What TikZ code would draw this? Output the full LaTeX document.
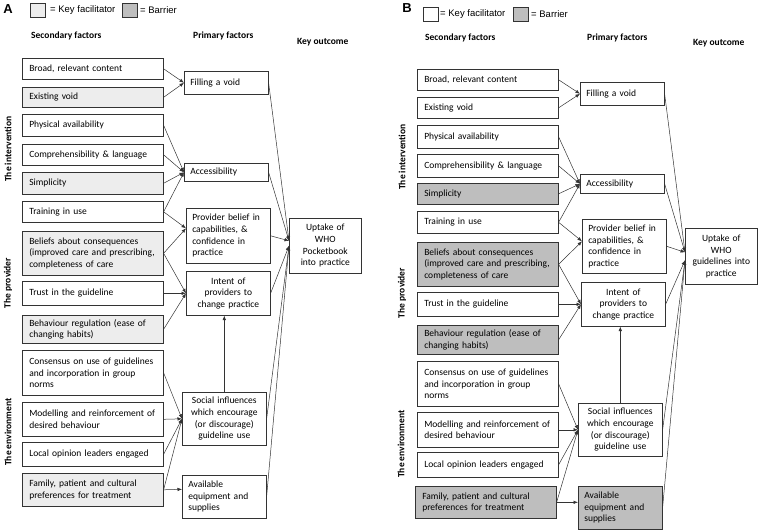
\documentclass[tikz,border=0pt]{standalone}
\usepackage{fontspec}
\setmainfont{Carlito}
\newfontfamily\legendfont{Liberation Sans}
\usetikzlibrary{arrows.meta,positioning,calc}
\definecolor{facil}{HTML}{EDEDED}
\definecolor{barrier}{HTML}{BEBEBE}
\definecolor{edge}{HTML}{333333}
\newcommand\factfont{\fontsize{9.5}{11.6}\selectfont}
\tikzset{
  fact/.style={draw=edge, line width=0.6pt, anchor=north west, inner xsep=7pt, inner ysep=2pt,
    text width=127pt, align=left, font=\factfont},
  prim/.style={fact, inner xsep=6pt, text width=72pt},
  outc/.style={fact, inner xsep=4pt, text width=64pt, align=center},
  keyfac/.style={fill=facil},
  barr/.style={fill=barrier},
  link/.style={draw=edge, line width=0.5pt, -{Latex[length=4.5pt,width=3.5pt]}},
  head/.style={anchor=west, inner sep=0pt, font=\fontsize{9.5}{11}\selectfont\bfseries},
  side/.style={rotate=90, inner sep=0pt, font=\fontsize{9.5}{11}\selectfont\bfseries},
  legbox/.style={draw=edge, line width=0.5pt, anchor=north west, inner sep=0pt, minimum width=15pt, minimum height=14pt},
  legtext/.style={anchor=west, inner sep=0pt, font=\legendfont\fontsize{9.5}{11}\selectfont},
  panel/.style={inner sep=0pt, font=\legendfont\fontsize{13}{15}\selectfont\bfseries}
}

\begin{document}
\begin{tikzpicture}[x=1pt,y=-1pt]
    \useasboundingbox (0,0) rectangle (758,530);

    % ---------- panel A ----------
    \node[panel] (labA) at (8,9) {A};
    \node[legbox, keyfac] (lkA) at (30,3) {};
    \node[legtext] (ltkA) at (50,10) {= Key facilitator};
    \node[legbox, barr] (lbA) at (122,3) {};
    \node[legtext] (ltbA) at (140,10) {= Barrier};

    \node[head] (hsA) at (31,36) {Secondary factors};
    \node[head] (hpA) at (193,36) {Primary factors};
    \node[head] (hoA) at (297,42) {Key outcome};

    \node[side] (s1A) at (8,149) {The intervention};
    \node[side] (s2A) at (8,283) {The provider};
    \node[side] (s3A) at (8,432) {The environment};

    % secondary factors
    \node[fact, minimum height=21pt] (broA) at (22,58) {Broad, relevant content};
    \node[fact, keyfac, minimum height=20pt] (exiA) at (22,87) {Existing void};
    \node[fact, minimum height=22pt] (phyA) at (22,114) {Physical availability};
    \node[fact, minimum height=21pt] (comA) at (22,144) {Comprehensibility \& language};
    \node[fact, keyfac, minimum height=22pt] (simA) at (22,172) {Simplicity};
    \node[fact, minimum height=21pt] (traA) at (22,201) {Training in use};
    \node[fact, keyfac, minimum height=44pt] (belA) at (22,231) {Beliefs about consequences\\(improved care and prescribing,\\completeness of care};
    \node[fact, minimum height=24pt] (truA) at (22,281) {Trust in the guideline};
    \node[fact, keyfac, minimum height=28pt] (behA) at (22,315) {Behaviour regulation (ease of\\changing habits)};
    \node[fact, minimum height=45pt] (conA) at (22,350) {Consensus on use of guidelines\\and incorporation in group\\norms};
    \node[fact, minimum height=34pt] (modA) at (22,402) {Modelling and reinforcement of\\desired behaviour};
    \node[fact, minimum height=24pt] (locA) at (22,442) {Local opinion leaders engaged};
    \node[fact, keyfac, minimum height=33pt] (famA) at (22,473) {Family, patient and cultural\\preferences for treatment};

    % primary factors
    \node[prim, minimum height=23pt] (filA) at (184,71) {Filling a void};
    \node[prim, minimum height=18pt] (accA) at (184,163) {Accessibility};
    \node[prim, minimum height=55pt] (pbeA) at (186,208) {Provider belief in\\capabilities, \&\\confidence in\\practice};
    \node[prim, align=center, minimum height=44pt] (intA) at (186,271) {Intent of\\providers to\\change practice};
    \node[prim, align=center, minimum height=53pt] (socA) at (182,392) {Social influences\\which encourage\\(or discourage)\\guideline use};
    \node[prim, minimum height=43pt] (avaA) at (182,475) {Available\\equipment and\\supplies};

    % key outcome
    \node[outc, minimum height=55pt] (upA) at (289,218) {Uptake of\\WHO\\Pocketbook\\into practice};

    % connectors
    \foreach \s in {broA,exiA} \draw[link] (\s.east) -- (filA.west);
    \foreach \s in {phyA,comA,simA,traA} \draw[link] (\s.east) -- (accA.west);
    \foreach \s in {traA,belA} \draw[link] (\s.east) -- ([yshift=7.5pt]pbeA.west);
    \foreach \s in {belA,truA,behA} \draw[link] (\s.east) -- (intA.west);
    \foreach \s in {conA,modA,locA,famA} \draw[link] (\s.east) -- (socA.west);
    \draw[link] (famA.east) -- ([yshift=7.5pt]avaA.west);
    \foreach \s in {filA,accA,pbeA} \draw[link] (\s.east) -- ([yshift=5pt]upA.west);
    \foreach \s in {intA,socA,avaA} \draw[link] (\s.east) -- (upA.west);
    \draw[link] (socA.north) -- (socA.north |- intA.south);

    % ---------- panel B ----------
    \node[panel] (labB) at (407,8) {B};
    \node[legbox] (lkB) at (423,7) {};
    \node[legtext] (ltkB) at (440,14) {= Key facilitator};
    \node[legbox, barr] (lbB) at (513,7) {};
    \node[legtext] (ltbB) at (531,14) {= Barrier};

    \node[head] (hsB) at (425,38) {Secondary factors};
    \node[head] (hpB) at (587,38) {Primary factors};
    \node[head] (hoB) at (693,43) {Key outcome};

    \node[side] (s1B) at (402,157) {The intervention};
    \node[side] (s2B) at (402,293) {The provider};
    \node[side] (s3B) at (401,444) {The environment};

    % secondary factors
    \node[fact, minimum height=21pt] (broB) at (417,69) {Broad, relevant content};
    \node[fact, minimum height=21pt] (exiB) at (417,97) {Existing void};
    \node[fact, minimum height=23pt] (phyB) at (417,125) {Physical availability};
    \node[fact, minimum height=23pt] (comB) at (417,154) {Comprehensibility \& language};
    \node[fact, barr, minimum height=21pt] (simB) at (417,183) {Simplicity};
    \node[fact, minimum height=22pt] (traB) at (417,211) {Training in use};
    \node[fact, barr, minimum height=44pt] (belB) at (417,242) {Beliefs about consequences\\(improved care and prescribing,\\completeness of care};
    \node[fact, minimum height=24pt] (truB) at (417,292) {Trust in the guideline};
    \node[fact, barr, minimum height=29pt] (behB) at (417,325) {Behaviour regulation (ease of\\changing habits)};
    \node[fact, minimum height=45pt] (conB) at (417,361) {Consensus on use of guidelines\\and incorporation in group\\norms};
    \node[fact, minimum height=35pt] (modB) at (417,412) {Modelling and reinforcement of\\desired behaviour};
    \node[fact, minimum height=25pt] (locB) at (417,452) {Local opinion leaders engaged};
    \node[fact, barr, minimum height=32pt] (famB) at (415,486) {Family, patient and cultural\\preferences for treatment};

    % primary factors
    \node[prim, minimum height=23pt] (filB) at (580,82) {Filling a void};
    \node[prim, minimum height=19pt] (accB) at (580,174) {Accessibility};
    \node[prim, minimum height=54pt] (pbeB) at (582,219) {Provider belief in\\capabilities, \&\\confidence in\\practice};
    \node[prim, align=center, minimum height=44pt] (intB) at (581,282) {Intent of\\providers to\\change practice};
    \node[prim, align=center, minimum height=53pt] (socB) at (578,403) {Social influences\\which encourage\\(or discourage)\\guideline use};
    \node[prim, barr, minimum height=43pt] (avaB) at (578,486) {Available\\equipment and\\supplies};

    % key outcome
    \node[outc, minimum height=56pt] (upB) at (685,228) {Uptake of\\WHO\\guidelines into\\practice};

    % connectors
    \foreach \s in {broB,exiB} \draw[link] (\s.east) -- (filB.west);
    \foreach \s in {phyB,comB,simB,traB} \draw[link] (\s.east) -- (accB.west);
    \foreach \s in {traB,belB} \draw[link] (\s.east) -- ([yshift=5pt]pbeB.west);
    \foreach \s in {belB,truB,behB} \draw[link] (\s.east) -- (intB.west);
    \foreach \s in {conB,modB,locB,famB} \draw[link] (\s.east) -- (socB.west);
    \draw[link] (famB.east) -- ([yshift=5.5pt]avaB.west);
    \foreach \s in {filB,accB,pbeB} \draw[link] (\s.east) -- ([yshift=4pt]upB.west);
    \foreach \s in {intB,socB,avaB} \draw[link] (\s.east) -- ([yshift=-4pt]upB.west);
    \draw[link] (socB.north) -- (socB.north |- intB.south);
\end{tikzpicture}
\end{document}
